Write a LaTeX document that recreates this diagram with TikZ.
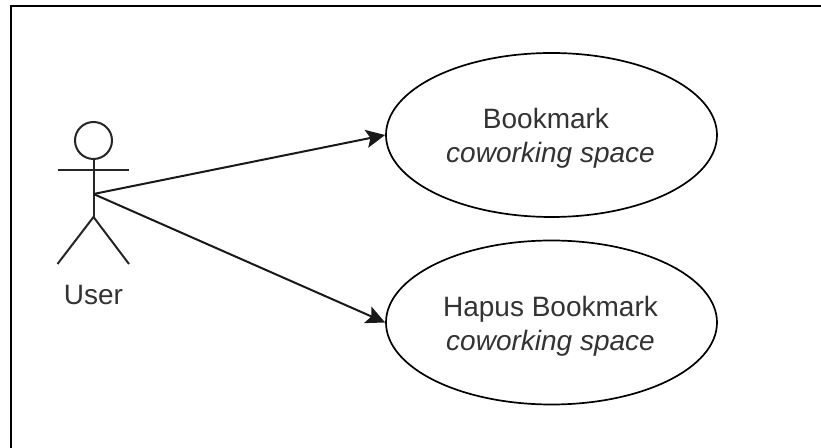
\documentclass[tikz,border=0pt]{standalone}
\usepackage{fontspec}
\setmainfont{Liberation Sans}
\usetikzlibrary{shapes.geometric,arrows.meta}
\definecolor{ink}{HTML}{000000}
\definecolor{txt}{HTML}{333333}
\tikzset{
  px/.style={x=0.75pt,y=-0.75pt},
  usecase/.style={ellipse,draw=ink,line width=1.7*0.75pt,minimum width=331*0.75pt,minimum height=164*0.75pt,inner sep=0pt},
  uctext/.style={align=center,font=\fontsize{21}{25.5}\selectfont,text=txt,inner sep=0pt},
  limb/.style={draw=ink!85,line width=2*0.75pt},
  conn/.style={draw=ink!90,line width=2*0.75pt,-{Stealth[length=19*0.75pt,width=18*0.75pt,inset=4*0.75pt]}},
  lbl/.style={font=\fontsize{21}{25}\selectfont,text=txt,inner sep=0pt}
}
\begin{document}
\begin{tikzpicture}[px]
\useasboundingbox (0,0) rectangle (821,448);
\fill[white] (0,0) rectangle (821,448);
\draw[ink,line width=2.4*0.75pt] (11,448) -- (11,6) -- (821,6);
\node[usecase] (a) at (551.5,135) {};
\node[usecase] (b) at (551.5,322.5) {};
\node[uctext] (at) at (550.5,138) {\hspace*{-6.8pt}Bookmark\\\textit{coworking space}};
\node[uctext] (bt) at (550.5,326) {Hapus Bookmark\\\textit{coworking space}};
\node[circle,draw=ink!85,line width=2*0.75pt,minimum size=37*0.75pt,inner sep=0pt] (head) at (93.5,140.5) {};
\coordinate (hip) at (93.5,217);
\coordinate (la) at (57.5,170);
\coordinate (ra) at (129,170);
\coordinate (ll) at (57.5,264);
\coordinate (rl) at (129,264);
\coordinate (src) at (93.5,194);
\draw[limb] (head.south) -- (hip);
\draw[limb] (la) -- (ra);
\draw[limb] (ll) -- (hip) -- (rl);
\node[lbl] (u) at (93.5,295) {User};
\draw[conn] (src) -- (a.west);
\draw[conn] (src) -- (b.west);
\end{tikzpicture}
\end{document}
